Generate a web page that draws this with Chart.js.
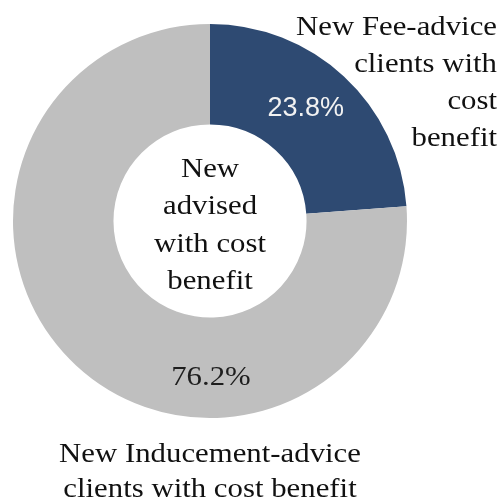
<!DOCTYPE html>
<html>
<head>
<meta charset="utf-8">
<script src="https://cdn.jsdelivr.net/npm/chart.js@4.4.1/dist/chart.umd.min.js"></script>
<style>
html,body{margin:0;padding:0;background:#ffffff;}
#c{display:block;}
</style>
</head>
<body>
<canvas id="c" width="501" height="500"></canvas>
<script>
const categories = ["New Fee-advice clients with cost benefit", "New Inducement-advice clients with cost benefit"];
const values = [23.8, 76.2];
const valueLabels = ["23.8%", "76.2%"];
const colors = ["#2E4A72", "#BFBFBF"];
const centerLines = ["New", "advised", "with cost", "benefit"];
const feeLines = ["New Fee-advice", "clients with", "cost", "benefit"];
const inducementLines = ["New Inducement-advice", "clients with cost benefit"];

const serif = '"Times New Roman", Times, "Liberation Serif", "DejaVu Serif", serif';
const SX = 1.1;

function txt(ctx, t, x, y, sx) {
  ctx.save();
  ctx.translate(x, y);
  ctx.scale(sx, 1);
  ctx.fillText(t, 0, 0);
  ctx.restore();
}

const labelPlugin = {
  id: 'labels',
  afterDraw(chart) {
    const ctx = chart.ctx;
    const meta = chart.getDatasetMeta(0);
    const a0 = meta.data[0];
    const cx = a0.x, cy = a0.y;
    const R = a0.outerRadius, r = a0.innerRadius;
    ctx.save();
    ctx.textBaseline = 'alphabetic';
    const p0 = a0.tooltipPosition();
    ctx.textAlign = 'center';
    ctx.fillStyle = '#F2F2F2';
    ctx.font = '27px Arial, "Liberation Sans", sans-serif';
    txt(ctx, valueLabels[0], p0.x - 4, p0.y + 3, 1.0);
    ctx.fillStyle = '#1E1E1E';
    ctx.font = '28px ' + serif;
    txt(ctx, valueLabels[1], cx + 1, cy + (R + r) / 2 + 17, SX);
    ctx.fillStyle = '#111111';
    const lh = 37.3;
    centerLines.forEach((t, i) => {
      txt(ctx, t, cx, cy - 44 + i * lh, SX);
    });
    ctx.textAlign = 'right';
    feeLines.forEach((t, i) => {
      txt(ctx, t, 497, 35 + i * 37, SX);
    });
    ctx.textAlign = 'center';
    inducementLines.forEach((t, i) => {
      txt(ctx, t, cx, 462 + i * 35, SX);
    });
    ctx.restore();
  }
};

new Chart(document.getElementById('c'), {
  type: 'doughnut',
  data: {
    labels: categories,
    datasets: [{
      data: values,
      backgroundColor: colors,
      borderWidth: 0
    }]
  },
  options: {
    responsive: false,
    animation: false,
    cutout: '49%',
    layout: { padding: { left: 13, right: 94, top: 24, bottom: 82 } },
    plugins: {
      legend: { display: false },
      tooltip: { enabled: false }
    }
  },
  plugins: [labelPlugin]
});
</script>
</body>
</html>
